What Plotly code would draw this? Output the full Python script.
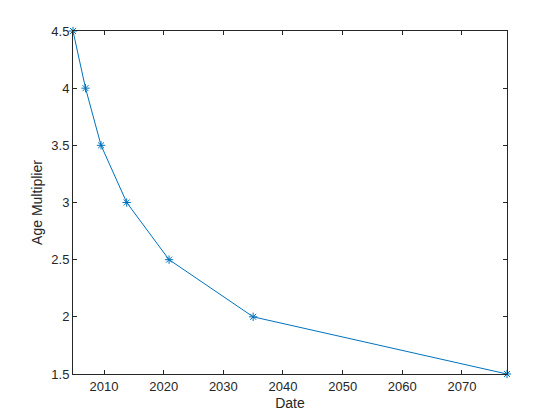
import plotly.graph_objects as go

dates = [2004.8, 2006.9, 2009.5, 2013.8, 2020.9, 2035.0, 2077.55]
multipliers = [4.5, 4.0, 3.5, 3.0, 2.5, 2.0, 1.5]
x_ticks = [2010, 2020, 2030, 2040, 2050, 2060, 2070]
y_ticks = [1.5, 2, 2.5, 3, 3.5, 4, 4.5]
y_tick_labels = ["1.5", "2", "2.5", "3", "3.5", "4", "4.5"]

fig = go.Figure(go.Scatter(
    x=dates, y=multipliers, mode="lines+markers",
    line=dict(color="#0072BD", width=1),
    marker=dict(symbol="asterisk-open", size=7, color="#0072BD",
                line=dict(color="#0072BD", width=1)),
    cliponaxis=False,
))

axis_common = dict(
    showgrid=False, zeroline=False, showline=True, linecolor="#262626",
    linewidth=1, mirror="ticks", ticks="inside", ticklen=4,
    tickcolor="#262626", tickfont=dict(family="Liberation Sans, Arial", size=13, color="#262626"),
)

fig.update_layout(
    width=552, height=412,
    margin=dict(l=65, r=53, t=23, b=46, autoexpand=False),
    paper_bgcolor="white", plot_bgcolor="white",
    showlegend=False,
    font=dict(family="Liberation Sans, Arial", color="#262626"),
    xaxis=dict(range=[dates[0], dates[-1]], tickvals=x_ticks, automargin=False,
               title=dict(text="Date", font=dict(size=14), standoff=5), **axis_common),
    yaxis=dict(range=[1.5, 4.5], tickvals=y_ticks, ticktext=y_tick_labels, automargin=False,
               title=dict(text="Age Multiplier", font=dict(size=14), standoff=5), **axis_common),
)

fig.write_html("out.html")
